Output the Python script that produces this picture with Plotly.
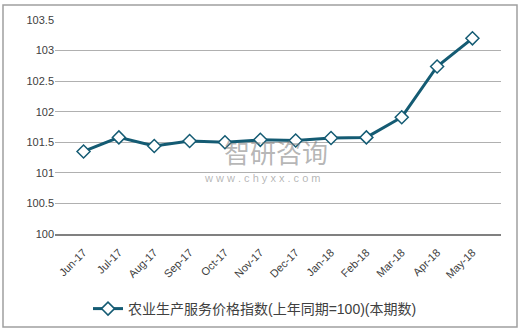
import plotly.graph_objects as go

categories = ["Jun-17", "Jul-17", "Aug-17", "Sep-17", "Oct-17", "Nov-17",
              "Dec-17", "Jan-18", "Feb-18", "Mar-18", "Apr-18", "May-18"]
values = [101.35, 101.58, 101.44, 101.52, 101.50, 101.54,
          101.53, 101.57, 101.58, 101.91, 102.74, 103.20]
series_name = "农业生产服务价格指数(上年同期=100)(本期数)"
y_ticks = [100, 100.5, 101, 101.5, 102, 102.5, 103, 103.5]
y_tick_labels = ["100", "100.5", "101", "101.5", "102", "102.5", "103", "103.5"]

W, H = 522, 330
ml, mr, mt, mb = 55, 21, 20, 96
pw, ph = W - ml - mr, H - mt - mb

font = "Liberation Sans, Noto Sans CJK SC, sans-serif"
color = "#145b73"

fig = go.Figure()
fig.add_trace(go.Scatter(
    x=categories, y=values, name=series_name, mode="lines+markers",
    line=dict(color=color, width=3),
    marker=dict(symbol="diamond", size=10, color="white",
                line=dict(color=color, width=1.5)),
))

fig.update_layout(
    width=W, height=H,
    margin=dict(l=ml, r=mr, t=mt, b=mb, autoexpand=False),
    paper_bgcolor="white", plot_bgcolor="white",
    font=dict(family=font, size=11, color="#404040"),
    showlegend=True,
    legend=dict(orientation="h", x=(88 - ml) / pw, xanchor="left",
                y=(H - 293 - mb) / ph, yanchor="top",
                font=dict(size=14, color="#404040")),
    xaxis=dict(type="category", tickangle=-45, showgrid=False, automargin=False,
               showline=True, linecolor="#808080", linewidth=1.5,
               ticks="", tickfont=dict(size=11), ticklabelstandoff=6),
    yaxis=dict(range=[100, 103.5], tickvals=y_ticks, ticktext=y_tick_labels,
               showgrid=True, gridcolor="#b0b0b0", gridwidth=1, automargin=False,
               zeroline=False, showline=False, ticks="", ticklen=0,
               tickfont=dict(size=11)),
)

# outer border
fig.add_shape(type="rect", xref="paper", yref="paper",
              x0=(3 - ml) / pw, x1=(517 - ml) / pw,
              y0=(H - 327 - mb) / ph, y1=(H - 5 - mb) / ph,
              line=dict(color="#a0a0a0", width=1.5), fillcolor="rgba(0,0,0,0)")

# watermark
fig.add_annotation(xref="paper", yref="paper", x=(276 - ml) / pw, y=(H - 151 - mb) / ph,
                   text="智研咨询", showarrow=False, xanchor="center", yanchor="middle",
                   font=dict(size=26, color="rgba(120,120,120,0.55)", family="Noto Sans CJK SC"))
fig.add_annotation(xref="paper", yref="paper", x=(262 - ml) / pw, y=(H - 178 - mb) / ph,
                   text="w w w . c h y x x . c o m", showarrow=False, xanchor="center", yanchor="middle",
                   font=dict(size=11, color="rgba(120,120,120,0.55)", family=font))

fig.write_html("out.html")
